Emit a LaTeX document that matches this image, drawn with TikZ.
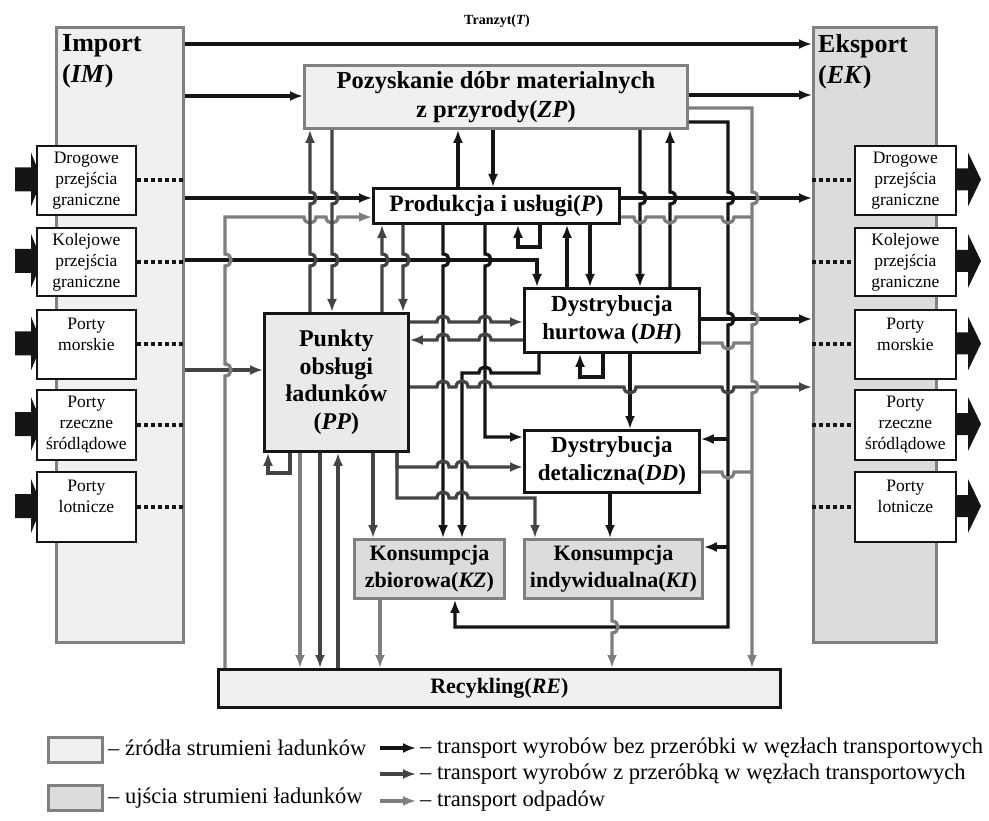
\documentclass[tikz,border=0pt]{standalone}
\usepackage{fontspec}
\setmainfont{Liberation Serif}
\usetikzlibrary{arrows.meta}
\definecolor{srcfill}{HTML}{F0F0F0}
\definecolor{sinkfill}{HTML}{DCDCDC}
\definecolor{ppfill}{HTML}{EAEAEA}
\definecolor{edgegray}{HTML}{808080}
\definecolor{cK}{HTML}{151515}
\definecolor{cD}{HTML}{444444}
\definecolor{cG}{HTML}{7E7E7E}
\tikzset{
  src/.style={draw=edgegray, fill=srcfill, line width=2.8pt, anchor=north west, inner sep=0pt, align=center},
  sink/.style={draw=edgegray, fill=sinkfill, line width=2.8pt, anchor=north west, inner sep=0pt, align=center},
  wbox/.style={draw=cK, fill=white, line width=2.8pt, anchor=north west, inner sep=0pt, align=center},
  port/.style={draw=cK, fill=white, line width=1.8pt, anchor=north west, inner sep=0pt, align=center, font=\fontsize{17.5}{21}\selectfont},
  bigt/.style={font=\bfseries\fontsize{24.5}{29}\selectfont},
  K/.style={draw=cK, line width=3.3pt},
  D/.style={draw=cD, line width=3.3pt},
  G/.style={draw=cG, line width=3.3pt},
  arr/.style={-{Latex[length=13pt,width=10pt]}},
  dots/.style={draw=cK, line width=3.8pt, dash pattern=on 4pt off 3pt},
  blk/.style={fill=cK},
  lgt/.style={anchor=west, inner sep=0pt, font=\fontsize{22.5}{26}\selectfont},
  hd/.style 2 args={insert path={-- (#1,#2-6) .. controls (#1+8,#2-6) and (#1+8,#2+6) .. (#1,#2+6)}},
  hu/.style 2 args={insert path={-- (#1,#2+6) .. controls (#1+8,#2+6) and (#1+8,#2-6) .. (#1,#2-6)}},
  hr/.style 2 args={insert path={-- (#1-6,#2) .. controls (#1-6,#2-8) and (#1+6,#2-8) .. (#1+6,#2)}},
  hl/.style 2 args={insert path={-- (#1+6,#2) .. controls (#1+6,#2-8) and (#1-6,#2-8) .. (#1-6,#2)}},
  hrd/.style 2 args={insert path={-- (#1-6,#2) .. controls (#1-6,#2+8) and (#1+6,#2+8) .. (#1+6,#2)}},
}
\begin{document}
\begin{tikzpicture}[x=1pt,y=-1pt]
\fill[white] (0,0) rectangle (989,821);
\useasboundingbox (0,0) rectangle (989,821);

% ---- Import / Eksport
\node[src, minimum width=127pt, minimum height=615pt] (IM) at (55,26) {};
\node[anchor=north west, align=left, inner sep=0pt, font=\bfseries\fontsize{26}{31}\selectfont] (IMt) at (62,34) {Import\\(\textit{IM})};
\node[sink, minimum width=123pt, minimum height=615pt] (EK) at (812,26) {};
\node[anchor=north west, align=left, inner sep=0pt, font=\bfseries\fontsize{26}{31}\selectfont] (EKt) at (818,34) {Eksport\\(\textit{EK})};

% ---- block arrows (left)
\foreach \yc in {179.5,261,343.5,424,506}{
  \fill[blk] (15,\yc-12) -- (31,\yc-12) -- (31,\yc-27) -- (42,\yc) -- (31,\yc+27) -- (31,\yc+12) -- (15,\yc+12) -- cycle;
}
% ---- block arrows (right)
\foreach \yc in {179.5,261,343.5,424,506}{
  \fill[blk] (953,\yc-11) -- (968,\yc-11) -- (968,\yc-27) -- (981,\yc) -- (968,\yc+27) -- (968,\yc+11) -- (953,\yc+11) -- cycle;
}

% ---- left ports
\node[port, minimum width=99pt, minimum height=69pt] (L1) at (36,145) {Drogowe\\przejścia\\graniczne};
\node[port, minimum width=99pt, minimum height=68pt] (L2) at (36,227) {Kolejowe\\przejścia\\graniczne};
\node[port, minimum width=99pt, minimum height=69pt] (L3) at (36,309) {Porty\\morskie\\\mbox{}};
\node[port, minimum width=99pt, minimum height=70pt] (L4) at (36,389) {Porty\\rzeczne\\śródlądowe};
\node[port, minimum width=99pt, minimum height=70pt] (L5) at (36,471) {Porty\\lotnicze\\\mbox{}};
% ---- right ports
\node[port, minimum width=101pt, minimum height=69pt] (R1) at (854,145) {Drogowe\\przejścia\\graniczne};
\node[port, minimum width=101pt, minimum height=68pt] (R2) at (854,227) {Kolejowe\\przejścia\\graniczne};
\node[port, minimum width=101pt, minimum height=69pt] (R3) at (854,309) {Porty\\morskie\\\mbox{}};
\node[port, minimum width=101pt, minimum height=70pt] (R4) at (854,389) {Porty\\rzeczne\\śródlądowe};
\node[port, minimum width=101pt, minimum height=70pt] (R5) at (854,471) {Porty\\lotnicze\\\mbox{}};

\foreach \n in {1,...,5}{
  \draw[dots] (L\n.east) -- (IM.east |- L\n.east);
  \draw[dots] (EK.west |- R\n.west) -- (R\n.west);
}

% ---- central boxes
\node[src, bigt, minimum width=383pt, minimum height=63pt] (ZP) at (303,64) {Pozyskanie dóbr materialnych\\z przyrody(\textit{ZP})};
\node[wbox, font=\bfseries\fontsize{23.5}{28}\selectfont, minimum width=246pt, minimum height=35pt] (P) at (372,187) {Produkcja i usługi(\textit{P})};
\node[wbox, font=\bfseries\fontsize{23}{28}\selectfont, minimum width=175pt, minimum height=64pt] (DH) at (523,287) {Dystrybucja\\hurtowa (\textit{DH})};
\node[wbox, font=\bfseries\fontsize{23}{28}\selectfont, minimum width=175pt, minimum height=62pt] (DD) at (523,429) {Dystrybucja\\detaliczna(\textit{DD})};
\node[wbox, fill=ppfill, font=\bfseries\fontsize{24}{27.5}\selectfont, minimum width=144pt, minimum height=138pt] (PP) at (263,312) {Punkty\\obsługi\\ładunków\\(\textit{PP})};
\node[sink, font=\bfseries\fontsize{22}{27}\selectfont, minimum width=150pt, minimum height=59pt] (KZ) at (353,538) {Konsumpcja\\zbiorowa(\textit{KZ})};
\node[sink, font=\bfseries\fontsize{22}{27}\selectfont, minimum width=178pt, minimum height=59pt] (KI) at (523,538) {Konsumpcja\\indywidualna(\textit{KI})};
\node[src, draw=cK, font=\bfseries\fontsize{22}{27}\selectfont, minimum width=562pt, minimum height=38pt] (RE) at (217,668) {Recykling(\textit{RE})};

\node[font=\bfseries\fontsize{14}{16}\selectfont] (T) at (497,21) {Tranzyt(\textit{T})};

% ---- connectors: long horizontals
\draw[K,arr] (IM.east |- 0,44) -- (EK.west |- 0,44);
\draw[K,arr] (IM.east |- 0,96) -- (ZP.west |- 0,96);
\draw[K,arr] (ZP.east |- 0,95) -- (EK.west |- 0,95);
\draw[K,arr] (IM.east |- 0,198) -- (P.west |- 0,198);
\draw[K,arr] (P.east |- 0,198) -- (EK.west |- 0,198);
\draw[K,arr] (IM.east |- 0,260) -- (537,260) -- (537,0 |- DH.north);
\draw[D,arr] (IM.east |- 0,370) -- (PP.west |- 0,370);
% recycling -> production (waste)
\draw[G,arr] (225,0 |- RE.north) [hu={225}{370}] [hu={225}{260}] -- (225,217) [hrd={310}{217}] [hrd={332}{217}] -- (P.west |- 0,217);

% ---- PP <-> ZP, P
\draw[D,arr] (310,0 |- PP.north) [hu={310}{260}] [hu={310}{198}] -- (310,0 |- ZP.south);
\draw[D,arr] (332,0 |- ZP.south) [hd={332}{198}] [hd={332}{260}] -- (332,0 |- PP.north);
\draw[D,arr] (382,0 |- PP.north) [hu={382}{260}] -- (382,0 |- P.south);
\draw[D,arr] (403,0 |- P.south) [hd={403}{260}] -- (403,0 |- PP.north);

% ---- P <-> ZP
\draw[K,arr] (458,0 |- P.north) -- (458,0 |- ZP.south);
\draw[K,arr] (493,0 |- ZP.south) -- (493,0 |- P.north);

% ---- P outputs
\draw[K,arr] (443,0 |- P.south) [hd={443}{260}] -- (443,0 |- KZ.north);
\draw[K,arr] (485,0 |- P.south) [hd={485}{260}] -- (485,437) -- (DD.west |- 0,437);
\draw[K,arr] (540,0 |- P.south) -- (540,247) -- (518,247) -- (518,0 |- P.south);
\draw[K,arr] (567,0 |- DH.north) -- (567,0 |- P.south);
\draw[K,arr] (590,0 |- P.south) -- (590,0 |- DH.north);

% ---- ZP <-> DH
\draw[K,arr] (640,0 |- ZP.south) [hd={640}{198}] -- (640,0 |- DH.north);
\draw[K,arr] (670,0 |- DH.north) [hu={670}{198}] -- (670,0 |- ZP.south);

% ---- ZP trunk on the right
\draw[K,arr] (ZP.east |- 0,122) -- (728,122) [hd={728}{198}] [hd={728}{319}] -- (728,627) -- (455,627) -- (455,0 |- KZ.south);
\draw[K,arr] (728,439) -- (DD.east |- 0,439);
\draw[K,arr] (728,547) -- (KI.east |- 0,547);

% ---- DH
\draw[K,arr] (DH.east |- 0,319) -- (EK.west |- 0,319);
\draw[K,arr] (539,0 |- DH.south) -- (539,373) [hl={485}{373}] -- (462,373) -- (462,0 |- KZ.north);
\draw[K,arr] (603,0 |- DH.south) -- (603,377) -- (580,377) -- (580,0 |- DH.south);
\draw[K,arr] (630,0 |- DH.south) -- (630,0 |- DD.north);

% ---- PP links
\draw[D,arr] (PP.east |- 0,322) [hr={443}{322}] [hr={485}{322}] -- (DH.west |- 0,322);
\draw[D,arr] (DH.west |- 0,340) [hl={485}{340}] [hl={443}{340}] -- (PP.east |- 0,340);
\draw[D,arr] (PP.east |- 0,387) [hr={443}{387}] [hr={462}{387}] [hr={485}{387}] [hrd={630}{387}] [hrd={728}{387}] -- (EK.west |- 0,387);
\draw[D,arr] (397,0 |- PP.south) -- (397,467) [hr={443}{467}] [hr={462}{467}] -- (DD.west |- 0,467);
\draw[D,arr] (397,0 |- PP.south) -- (397,498) [hr={443}{498}] [hr={462}{498}] -- (535,498) -- (535,0 |- KI.north);
\draw[D,arr] (373,0 |- PP.south) -- (373,0 |- KZ.north);
\draw[G,arr] (300,0 |- PP.south) -- (300,0 |- RE.north);
\draw[D,arr] (320,0 |- PP.south) -- (320,0 |- RE.north);
\draw[D,arr] (338,0 |- RE.north) -- (338,0 |- PP.south);
\draw[D,arr] (290,0 |- PP.south) -- (290,473) -- (268,473) -- (268,0 |- PP.south);

% ---- DD, KZ, KI
\draw[K,arr] (610,0 |- DD.south) -- (610,0 |- KI.north);
\draw[G,arr] (380,0 |- KZ.south) -- (380,0 |- RE.north);
\draw[G,arr] (612,0 |- KI.south) [hd={612}{627}] -- (612,0 |- RE.north);

% ---- waste trunk on the right
\draw[G,arr] (ZP.east |- 0,108) -- (752,108) [hd={752}{198}] [hd={752}{319}] [hd={752}{387}] -- (752,0 |- RE.north);
\draw[G] (P.east |- 0,217) [hrd={640}{217}] [hrd={670}{217}] [hrd={728}{217}] -- (752,217);
\draw[G] (DH.east |- 0,343) [hrd={728}{343}] -- (752,343);
\draw[G] (DD.east |- 0,472) [hrd={728}{472}] -- (752,472);

% ---- legend
\node[src, minimum width=54pt, minimum height=25pt] (LS) at (47,736) {};
\node[sink, minimum width=54pt, minimum height=25pt] (LU) at (47,784) {};
\node[lgt] (LSt) at (108,748) {– źródła strumieni ładunków};
\node[lgt] (LUt) at (108,798) {– ujścia strumieni ładunków};
\coordinate (A1s) at (380,748); \coordinate (A1e) at (416,748);
\coordinate (A2s) at (380,774); \coordinate (A2e) at (416,774);
\coordinate (A3s) at (380,801); \coordinate (A3e) at (416,801);
\draw[K,arr] (A1s) -- (A1e);
\draw[D,arr] (A2s) -- (A2e);
\draw[G,arr] (A3s) -- (A3e);
\node[lgt] (T1) at (420,748) {– transport wyrobów bez przeróbki w węzłach transportowych};
\node[lgt] (T2) at (420,774) {– transport wyrobów z przeróbką w węzłach transportowych};
\node[lgt] (T3) at (420,801) {– transport odpadów};
\end{tikzpicture}
\end{document}
